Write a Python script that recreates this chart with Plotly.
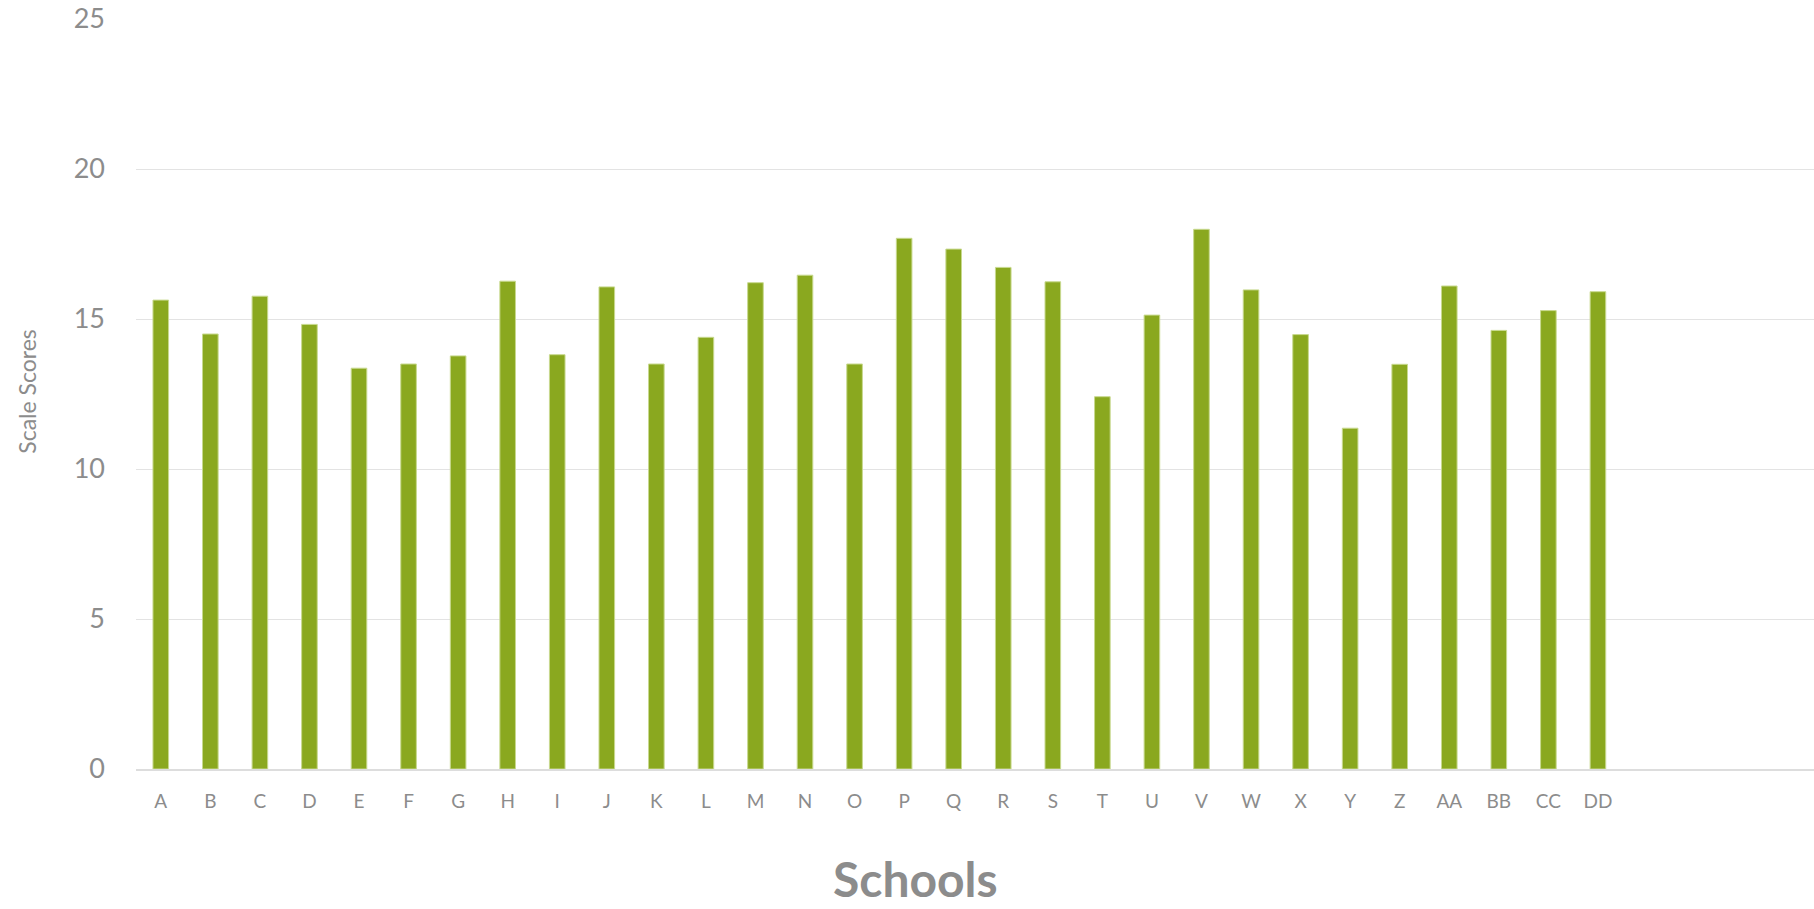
import plotly.graph_objects as go

schools = ["A", "B", "C", "D", "E", "F", "G", "H", "I", "J", "K", "L", "M", "N", "O",
           "P", "Q", "R", "S", "T", "U", "V", "W", "X", "Y", "Z", "AA", "BB", "CC", "DD"]
scores = [15.63, 14.50, 15.76, 14.82, 13.36, 13.50, 13.77, 16.26, 13.81, 16.07,
          13.50, 14.39, 16.21, 16.46, 13.50, 17.69, 17.33, 16.72, 16.24, 12.41,
          15.13, 17.99, 15.97, 14.48, 11.36, 13.49, 16.10, 14.62, 15.28, 15.91]
y_ticks = [0, 5, 10, 15, 20, 25]

W, H = 1814, 909
L, R, T, B = 136, 0, 19, 139.5
pw = W - L - R
ph = H - T - B

grey = "#8c8c8c"
font_fam = "Lato, 'Open Sans', sans-serif"

fig = go.Figure(go.Bar(
    x=list(range(len(schools))), y=scores,
    marker=dict(color="#8aa81f", line=dict(color="#c8d98f", width=1)),
    width=0.315,
))

fig.update_layout(
    width=W, height=H,
    margin=dict(l=L, r=R, t=T, b=B),
    plot_bgcolor="white", paper_bgcolor="white",
    showlegend=False,
    font=dict(family=font_fam, color=grey),
    xaxis=dict(
        range=[-0.5, 33.36],
        tickmode="array",
        tickvals=list(range(len(schools))),
        ticktext=schools,
        tickfont=dict(size=19, color=grey),
        showgrid=False,
        showline=True, linecolor="#dddddd", linewidth=1.5,
        ticks="", ticklabelstandoff=14,
        zeroline=False,
    ),
    yaxis=dict(
        range=[0, 25],
        tickmode="array",
        tickvals=y_ticks,
        ticktext=[str(v) for v in y_ticks],
        tickfont=dict(size=27, color=grey),
        showgrid=True, gridcolor="#e3e3e3", gridwidth=1.2,
        zeroline=False, showline=False,
        ticks="", ticklabelstandoff=30,
    ),
    annotations=[
        dict(text="Scale Scores", xref="paper", yref="paper",
             x=(27 - L) / pw, y=(769.5 - 391) / ph,
             xanchor="center", yanchor="middle", textangle=-90,
             showarrow=False, font=dict(size=23, color=grey, family=font_fam)),
        dict(text="<b>Schools</b>", xref="paper", yref="paper",
             x=(915 - L) / pw, y=(769.5 - 879) / ph,
             xanchor="center", yanchor="middle",
             showarrow=False, font=dict(size=48, color=grey, family=font_fam)),
    ],
)

fig.write_html("out.html", config={"displayModeBar": False},
               post_script="document.body.style.margin='0';document.body.style.overflow='hidden';")
